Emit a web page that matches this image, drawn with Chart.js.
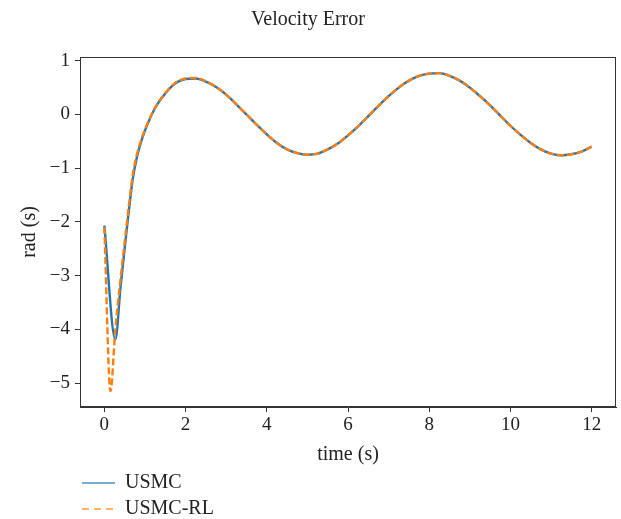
<!DOCTYPE html>
<html>
<head>
<meta charset="utf-8">
<script src="https://cdn.jsdelivr.net/npm/chart.js@4.4.1/dist/chart.umd.min.js"></script>
<style>
  html, body { margin: 0; padding: 0; background: #fff; }
  #wrap { width: 621px; height: 519px; }
</style>
</head>
<body>
<div id="wrap"><canvas id="chart" width="621" height="519"></canvas></div>
<script>
// --- data ---
const usmcTime = [0, 0.27, 0.4, 0.55, 0.7, 0.8, 0.9, 1.0, 1.25, 1.5, 1.75,
  2.0, 2.25, 2.5, 2.75, 3.0, 3.25, 3.5, 3.75, 4.0, 4.25, 4.5, 4.75,
  5.0, 5.25, 5.5, 5.75, 6.0, 6.25, 6.5, 6.75, 7.0, 7.25, 7.5, 7.75,
  8.0, 8.25, 8.5, 8.75, 9.0, 9.25, 9.5, 9.75, 10.0, 10.25, 10.5, 10.75,
  11.0, 11.25, 11.5, 11.75, 12.0];
const usmcVals = [-2.07, -4.19, -3.2, -2.15, -1.2, -0.8, -0.52, -0.3, 0.12, 0.39, 0.58,
  0.66, 0.67, 0.61, 0.51, 0.37, 0.19, 0.00, -0.19, -0.37, -0.53, -0.65, -0.72,
  -0.75, -0.73, -0.65, -0.54, -0.39, -0.22, -0.03, 0.16, 0.34, 0.50, 0.63, 0.72,
  0.76, 0.77, 0.72, 0.63, 0.50, 0.34, 0.17, -0.02, -0.21, -0.38, -0.53, -0.65,
  -0.73, -0.76, -0.74, -0.69, -0.60];

const rlTime = [0, 0.15, 0.27, 0.4, 0.55, 0.7, 0.8, 0.9, 1.0, 1.25, 1.5, 1.75,
  2.0, 2.25, 2.5, 2.75, 3.0, 3.25, 3.5, 3.75, 4.0, 4.25, 4.5, 4.75,
  5.0, 5.25, 5.5, 5.75, 6.0, 6.25, 6.5, 6.75, 7.0, 7.25, 7.5, 7.75,
  8.0, 8.25, 8.5, 8.75, 9.0, 9.25, 9.5, 9.75, 10.0, 10.25, 10.5, 10.75,
  11.0, 11.25, 11.5, 11.75, 12.0];
const rlVals = [-2.1, -5.15, -4.0, -3.05, -2.05, -1.12, -0.75, -0.49, -0.28, 0.13, 0.4, 0.59,
  0.67, 0.68, 0.62, 0.51, 0.37, 0.19, 0.00, -0.19, -0.37, -0.53, -0.65, -0.72,
  -0.75, -0.73, -0.65, -0.54, -0.39, -0.22, -0.03, 0.16, 0.34, 0.50, 0.63, 0.72,
  0.76, 0.77, 0.72, 0.63, 0.50, 0.34, 0.17, -0.02, -0.21, -0.38, -0.53, -0.65,
  -0.73, -0.76, -0.74, -0.69, -0.60];

const xTicks = [0, 2, 4, 6, 8, 10, 12];
const yTicks = [1, 0, -1, -2, -3, -4, -5];
const seriesNames = ['USMC', 'USMC-RL'];

const toPoints = (xs, ys) => xs.map((x, i) => ({ x: x, y: ys[i] }));

const FONT = '"Liberation Serif", "DejaVu Serif", serif';
Chart.defaults.font.family = FONT;
Chart.defaults.font.size = 20;
Chart.defaults.color = '#222';

// frame around the plot area, like matplotlib spines
const framePlugin = {
    id: 'frame',
    afterDatasetsDraw(chart) {
        const { ctx, chartArea: a } = chart;
        ctx.save();
        ctx.strokeStyle = '#333';
        ctx.lineWidth = 1;
        ctx.strokeRect(a.left + 0.5, a.top + 0.5, a.right - a.left - 1, a.bottom - a.top - 1);
        ctx.restore();
    }
};

// legend stacked under the x axis title
const stackedLegend = {
    id: 'stackedLegend',
    afterDraw(chart) {
        const { ctx, chartArea: a } = chart;
        ctx.save();
        ctx.font = '20px ' + FONT;
        ctx.textBaseline = 'middle';
        ctx.fillStyle = '#222';
        // keep legend in dataset order (USMC first)
        const items = chart.data.datasets.slice().sort((p, q) => seriesNames.indexOf(p.label) - seriesNames.indexOf(q.label));
        items.forEach((ds, i) => {
            const y = chart.height - 36 + i * 26;
            ctx.globalAlpha = 0.8;
            ctx.strokeStyle = ds.borderColor;
            ctx.lineWidth = 1.6;
            ctx.setLineDash(ds.borderDash ? [7, 5] : []);
            ctx.beginPath();
            ctx.moveTo(a.left + 2, y);
            ctx.lineTo(a.left + 35, y);
            ctx.stroke();
            ctx.setLineDash([]);
            ctx.globalAlpha = 1;
            ctx.fillText(ds.label, a.left + 45, y);
        });
        ctx.restore();
    }
};

new Chart(document.getElementById('chart').getContext('2d'), {
    type: 'line',
    data: {
        datasets: [{
            label: seriesNames[0],
            data: toPoints(usmcTime, usmcVals),
            borderColor: '#1f77b4',
            borderWidth: 2.4,
            pointRadius: 0,
            cubicInterpolationMode: 'monotone',
            fill: false,
            order: 2
        }, {
            label: seriesNames[1],
            data: toPoints(rlTime, rlVals),
            borderColor: '#ff7f0e',
            borderWidth: 2.4,
            borderDash: [7, 3],
            pointRadius: 0,
            cubicInterpolationMode: 'monotone',
            fill: false,
            order: 1
        }]
    },
    options: {
        responsive: false,
        animation: false,
        layout: { padding: { left: 0, right: 5, top: 0, bottom: 52 } },
        plugins: {
            legend: { display: false },
            tooltip: { enabled: false },
            title: {
                display: true,
                text: 'Velocity Error',
                font: { size: 20, weight: 'normal' },
                color: '#222',
                padding: { top: 8, bottom: 25 }
            }
        },
        scales: {
            x: {
                type: 'linear',
                min: -0.6,
                max: 12.6,
                afterBuildTicks: (s) => { s.ticks = xTicks.map(v => ({ value: v })); },
                ticks: { padding: 2, color: '#222', font: { size: 19 } },
                grid: { drawOnChartArea: false, drawTicks: true, tickLength: 5, color: '#333' },
                border: { display: true, color: '#333' },
                title: { display: true, text: 'time (s)', color: '#222', padding: { top: 0, bottom: 0 } },
                afterFit: (s) => { s.height = 60; }
            },
            y: {
                type: 'linear',
                min: -5.446,
                max: 1.07,
                afterBuildTicks: (s) => { s.ticks = yTicks.map(v => ({ value: v })); },
                ticks: {
                    padding: 5,
                    color: '#222',
                    font: { size: 19 },
                    callback: (v) => (v < 0 ? '\u2212' + Math.abs(v) : String(v))
                },
                grid: { drawOnChartArea: false, drawTicks: true, tickLength: 5, color: '#333' },
                border: { display: true, color: '#333' },
                title: { display: true, text: 'rad (s)', color: '#222', padding: { top: 18, bottom: 0 } },
                afterFit: (s) => { s.width = 80; }
            }
        }
    },
    plugins: [framePlugin, stackedLegend]
});
</script>
</body>
</html>
